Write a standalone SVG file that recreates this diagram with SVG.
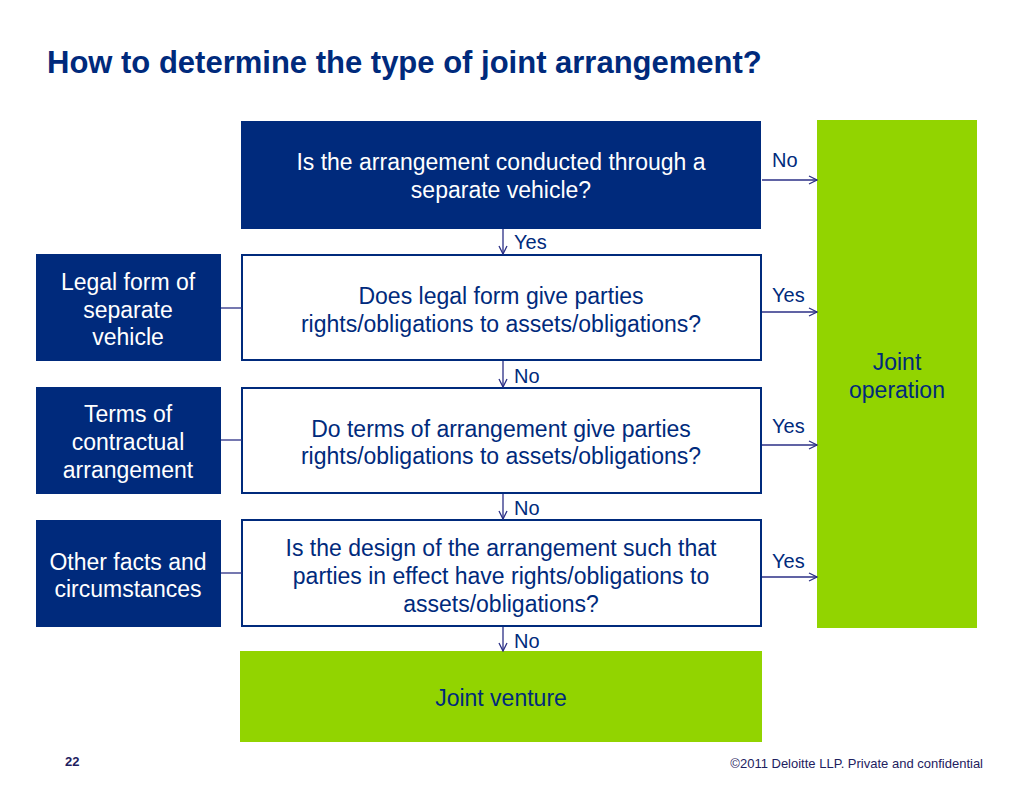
<svg xmlns="http://www.w3.org/2000/svg" width="1024" height="791" viewBox="0 0 1024 791">
<defs>
<marker id="ah" markerWidth="10" markerHeight="10" refX="9" refY="5" orient="auto" markerUnits="userSpaceOnUse">
<path d="M1,1 L9,5 L1,9" fill="none" stroke="#2b2f86" stroke-width="1.3"/>
</marker>
<style>
text{font-family:"Liberation Sans",Arial,sans-serif}
.title{font-size:31px;font-weight:bold;fill:#002a7c}
.dark{fill:#002a7c}
.q{fill:#fff;stroke:#002a7c;stroke-width:2}
.green{fill:#92d400}
.wt{font-size:23px;fill:#fff;text-anchor:middle}
.bt{font-size:23px;fill:#002a7c;text-anchor:middle}
.lbl{font-size:20px;fill:#002a7c}
.con{stroke:#2b2f86;stroke-width:1.3;fill:none}
.foot{font-size:13px;fill:#1e2160}
</style>
</defs>
<rect width="1024" height="791" fill="#fff"/>
<text class="title" x="47" y="73">How to determine the type of joint arrangement?</text>

<g id="q1"><rect class="dark" x="241" y="121" width="520" height="108"/>
<text class="wt" x="501" y="170">Is the arrangement conducted through a</text>
<text class="wt" x="501" y="198">separate vehicle?</text></g>

<g id="q2"><rect class="q" x="242" y="255" width="519" height="105"/>
<text class="bt" x="501" y="304">Does legal form give parties</text>
<text class="bt" x="501" y="332">rights/obligations to assets/obligations?</text></g>

<g id="q3"><rect class="q" x="242" y="388" width="519" height="105"/>
<text class="bt" x="501" y="437">Do terms of arrangement give parties</text>
<text class="bt" x="501" y="464">rights/obligations to assets/obligations?</text></g>

<g id="q4"><rect class="q" x="242" y="520" width="519" height="106"/>
<text class="bt" x="501" y="556">Is the design of the arrangement such that</text>
<text class="bt" x="501" y="584">parties in effect have rights/obligations to</text>
<text class="bt" x="501" y="612">assets/obligations?</text></g>

<g id="jv"><rect class="green" x="240" y="651" width="522" height="91"/>
<text class="bt" x="501" y="706">Joint venture</text></g>

<g id="jo"><rect class="green" x="817" y="120" width="160" height="508"/>
<text class="bt" x="897" y="370">Joint</text>
<text class="bt" x="897" y="398">operation</text></g>

<g id="l1"><rect class="dark" x="36" y="254" width="185" height="107"/>
<text class="wt" x="128" y="290">Legal form of</text>
<text class="wt" x="128" y="318">separate</text>
<text class="wt" x="128" y="345">vehicle</text></g>

<g id="l2"><rect class="dark" x="36" y="387" width="185" height="107"/>
<text class="wt" x="128" y="422">Terms of</text>
<text class="wt" x="128" y="450">contractual</text>
<text class="wt" x="128" y="478">arrangement</text></g>

<g id="l3"><rect class="dark" x="36" y="520" width="185" height="107"/>
<text class="wt" x="128" y="570">Other facts and</text>
<text class="wt" x="128" y="597">circumstances</text></g>

<g id="connectors">
<line class="con" x1="503" y1="229" x2="503" y2="254" marker-end="url(#ah)"/>
<line class="con" x1="503" y1="361" x2="503" y2="387" marker-end="url(#ah)"/>
<line class="con" x1="503" y1="494" x2="503" y2="519" marker-end="url(#ah)"/>
<line class="con" x1="503" y1="627" x2="503" y2="651" marker-end="url(#ah)"/>
<line class="con" x1="762" y1="180" x2="817" y2="180" marker-end="url(#ah)"/>
<line class="con" x1="762" y1="312" x2="817" y2="312" marker-end="url(#ah)"/>
<line class="con" x1="762" y1="445" x2="817" y2="445" marker-end="url(#ah)"/>
<line class="con" x1="762" y1="577" x2="817" y2="577" marker-end="url(#ah)"/>
<line class="con" x1="221" y1="308" x2="242" y2="308"/>
<line class="con" x1="221" y1="440" x2="242" y2="440"/>
<line class="con" x1="221" y1="573" x2="242" y2="573"/>
<text class="lbl" x="514" y="249">Yes</text>
<text class="lbl" x="514" y="383">No</text>
<text class="lbl" x="514" y="515">No</text>
<text class="lbl" x="514" y="648">No</text>
<text class="lbl" x="772" y="167">No</text>
<text class="lbl" x="772" y="302">Yes</text>
<text class="lbl" x="772" y="433">Yes</text>
<text class="lbl" x="772" y="568">Yes</text>
</g>

<text class="foot" x="65" y="766" font-weight="bold" font-size="11">22</text>
<text class="foot" x="983" y="768" text-anchor="end">©2011 Deloitte LLP. Private and confidential</text>
</svg>
